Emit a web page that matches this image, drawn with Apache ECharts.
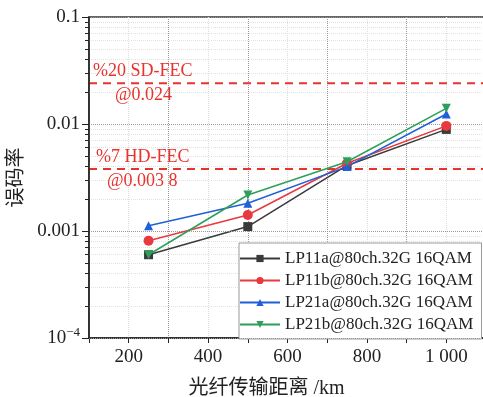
<!DOCTYPE html>
<html>
<head>
<meta charset="utf-8">
<script src="https://cdn.jsdelivr.net/npm/echarts@6/dist/echarts.min.js"></script>
<style>
  html, body { margin: 0; padding: 0; background: #fff; }
  #chart { width: 483px; height: 397px; }
</style>
</head>
<body>
<div id="chart"></div>
<script>
// distance (km)
const distances = [250, 500, 750, 1000];
const seriesNames = [
  'LP11a@80ch.32G 16QAM',
  'LP11b@80ch.32G 16QAM',
  'LP21a@80ch.32G 16QAM',
  'LP21b@80ch.32G 16QAM'
];
// BER values
const lp11a = [0.0006, 0.0011, 0.0041, 0.0089];
const lp11b = [0.00081, 0.00141, 0.0043, 0.0096];
const lp21a = [0.00112, 0.00182, 0.0040, 0.0124];
const lp21b = [0.0006, 0.00217, 0.00444, 0.014];
const fecLimits = [0.024, 0.0038];
const fecTop = ['%20 SD-FEC', '%7 HD-FEC'];
const fecBottom = ['@0.024', '@0.003 8'];
const xRange = [100, 1100];
const yTickLabels = { '0.1': '0.1', '0.01': '0.01', '0.001': '0.001', '0.0001': '10{sup|−4}' };

const colors = ['#3a3a3a', '#e8393f', '#1f5fd8', '#2e9e5b'];
const symbols = ['rect', 'circle', 'triangle', 'path://M0,0 L10,0 L5,9 Z'];
const serif = '"Liberation Serif", "Noto Sans CJK SC", serif';
const fecColor = '#e8322d';

// minor ticks at 2..9 of each decade
const minorVals = [];
for (let d = -4; d < -1; d++) {
  for (let k = 2; k <= 9; k++) minorVals.push(+(k * Math.pow(10, d)).toPrecision(3));
}

const chart = echarts.init(document.getElementById('chart'));

const values = [lp11a, lp11b, lp21a, lp21b];
const series = values.map((vals, i) => ({
  name: seriesNames[i],
  type: 'line',
  data: vals.map((v, j) => [distances[j], v]),
  symbol: symbols[i],
  symbolSize: i === 1 ? 10 : 9,
  color: colors[i],
  lineStyle: { width: 1.5 },
  z: 3 + i
}));

// FEC threshold lines, label above and below at the left end
const topOffsets = [4, 7];
const bottomOffsets = [26, 18];
fecLimits.forEach((v, i) => {
  series.push({
    name: 'fec' + i,
    type: 'line',
    symbol: 'circle',
    symbolSize: 0,
    showSymbol: true,
    clip: false,
    silent: true,
    z: 2,
    color: fecColor,
    lineStyle: { color: fecColor, type: [8, 6], width: 2 },
    label: { color: fecColor, fontSize: 18, fontFamily: serif },
    data: [
      { value: [xRange[0], v], label: { show: true, formatter: fecTop[i], position: 'top', align: 'left', distance: 3, offset: [topOffsets[i], 0] } },
      { value: [xRange[0], v], label: { show: true, formatter: fecBottom[i], position: 'bottom', align: 'left', distance: 3, offset: [bottomOffsets[i], 0] } },
      [xRange[1], v]
    ]
  });
});

const option = {
  animation: false,
  backgroundColor: '#fff',
  grid: {
    left: 89, right: -3, top: 17, bottom: 59,
    outerBoundsMode: 'none',
    containLabel: false,
    show: true, borderColor: '#333', borderWidth: 1.5
  },
  legend: {
    orient: 'vertical',
    left: 239, top: 243,
    padding: [7, 8, 6, 0],
    itemWidth: 40, itemHeight: 9, itemGap: 5,
    backgroundColor: '#fff',
    borderColor: '#999', borderWidth: 1,
    textStyle: { fontSize: 17, fontFamily: serif, color: '#222' },
    data: seriesNames
  },
  xAxis: {
    type: 'value',
    min: xRange[0], max: xRange[1], interval: 100,
    name: '光纤传输距离 /km',
    nameLocation: 'middle',
    nameGap: 41,
    nameTextStyle: { fontSize: 20, fontFamily: serif, color: '#222', padding: [0, 42, 0, 0] },
    axisLine: { lineStyle: { color: '#222', width: 1.5 } },
    axisTick: { show: true, length: 5, lineStyle: { color: '#222' } },
    axisLabel: {
      fontSize: 19, fontFamily: serif, color: '#222', margin: 10,
      formatter: v => (v % 200 === 0 ? (v === 1000 ? '1 000' : String(v)) : '')
    },
    splitLine: { show: true, lineStyle: { color: ['#999', '#ddd'], type: 'dotted' } }
  },
  yAxis: [
    {
      type: 'log',
      logBase: 10,
      min: 0.0001, max: 0.1,
      name: '误码率',
      nameLocation: 'middle',
      nameGap: 57,
      nameTextStyle: { fontSize: 20, fontFamily: serif, color: '#222' },
      axisLine: { show: true, lineStyle: { color: '#222', width: 1.5 } },
      axisTick: { show: true, length: 7, lineStyle: { color: '#222' } },
      axisLabel: {
        fontSize: 19, fontFamily: serif, color: '#222', margin: 9,
        formatter: v => yTickLabels[String(+v.toPrecision(3))] || '',
        rich: { sup: { fontSize: 13, fontFamily: serif, color: '#222', padding: [0, 0, 10, 0] } }
      },
      splitLine: { show: true, lineStyle: { color: '#999', type: 'dotted' } },
      z: 4
    },
    {
      // overlay axis carrying the minor ticks / minor grid
      type: 'log',
      logBase: 10,
      min: 0.0001, max: 0.1,
      position: 'left',
      axisLine: { show: false },
      axisTick: { show: true, length: 4, customValues: minorVals, lineStyle: { color: '#222' } },
      axisLabel: { show: false },
      splitLine: { show: true, lineStyle: { color: '#e2e2e2', type: 'dotted' } }
    }
  ],
  series: series
};

chart.setOption(option);
</script>
</body>
</html>
